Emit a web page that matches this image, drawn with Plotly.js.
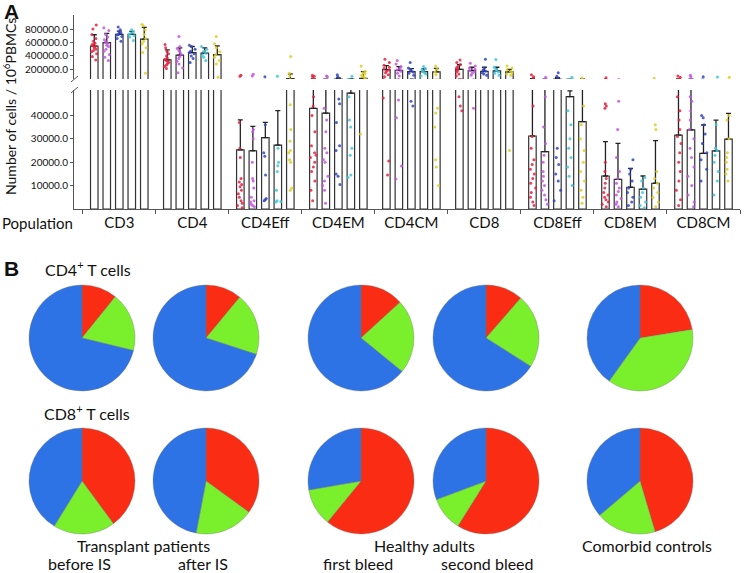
<!DOCTYPE html>
<html><head><meta charset="utf-8">
<script src="https://cdn.plot.ly/plotly-3.0.1.min.js"></script>
<style>html,body{margin:0;padding:0;background:#fff}#chart{width:745px;height:573px}</style>
</head><body><div id="chart"></div>
<script>
// ---------- Panel A data ----------
const populations = ['CD3','CD4','CD4Eff','CD4EM','CD4CM','CD8','CD8Eff','CD8EM','CD8CM'];
const groupNames = ['Transplant before IS','Transplant after IS','Healthy first bleed','Healthy second bleed','Comorbid controls'];

const meanRed    = [545000, 340000, 25300, 43000, 195000, 200000, 31200, 14100, 31600];
const meanViolet = [597000, 410000, 24900, 41000, 185000, 180000, 24500, 12700, 33800];
const meanBlue   = [720000, 450000, 30500, 53000, 165000, 170000, 55000,  9300, 23800];
const meanCyan   = [720000, 440000, 27300, 49500, 165000, 175000, 48000,  8500, 24800];
const meanYellow = [650000, 420000, 62000, 65000, 160000, 160000, 37300, 11000, 29900];

const sdRed    = [170000, 150000, 12800, 12000, 60000, 70000, 30000, 14700, 25000];
const sdViolet = [140000, 110000, 10400, 12000, 55000, 50000, 30000, 15300, 20000];
const sdBlue   = [ 50000,  90000,  6500, 20000, 45000, 60000, 20000,  8100, 12100];
const sdCyan   = [ 45000,  80000, 14700,  6000, 40000, 55000,  2500,  5600, 13200];
const sdYellow = [175000, 130000, 70000, 100000, 55000, 40000, 20000, 18200, 11000];

const ptsRed = [
  [340000,390000,430000,460000,480000,500000,520000,540000,555000,570000,590000,620000,660000,720000,800000,860000],
  [210000,240000,260000,280000,300000,310000,330000,350000,370000,400000,430000,470000,520000,570000],
  [500,1500,2500,3500,5000,6500,8000,9500,10500,11500,13000,22000,26000,37000,95000,110000],
  [3500,8000,12000,16000,18000,20000,22000,23000,24000,27000,33000,40000,44000,48000,85000,95000,110000],
  [14500,20500,47400,90000,120000,150000,170000,190000,210000,230000,260000,300000,350000],
  [42000,44000,48000,100000,130000,160000,180000,200000,220000,240000,270000,300000,340000],
  [1500,3000,5000,7000,9000,11000,13000,15000,17000,19000,21000,26000,31000,44000,70000,90000,120000],
  [1000,2000,3000,4000,5000,6000,7000,9000,11000,13000,16000,20000,43000,44000,45000,75000],
  [1500,4000,8000,12000,16000,20000,24000,28000,31000,34000,38000,42000,48000,80000,100000]
];
const ptsViolet = [
  [330000,380000,420000,470000,500000,540000,560000,590000,610000,640000,680000,720000,780000,820000],
  [150000,220000,280000,320000,360000,390000,420000,450000,480000,510000,540000,690000],
  [1000,1500,2000,3000,3500,5000,9000,12000,13000,20000,30000,33000,34000,100000,125000],
  [2500,8000,10000,12000,14000,20000,21000,24000,26000,33000,38000,43000,90000,100000],
  [12800,18400,39000,46600,100000,140000,170000,190000,210000,240000,280000,330000],
  [43000,110000,140000,160000,180000,200000,220000,250000,290000],
  [2000,4000,6000,8000,10000,12000,14000,16000,20000,23000,28000,35000,48000,80000],
  [1000,2000,3000,4500,6000,7500,9000,11000,13000,16000,22000,34000,46000],
  [1000,3000,6000,10000,14000,18000,22000,26000,30000,34000,38000,42000,46000,48000,90000,110000]
];
const ptsBlue = [
  [620000,660000,690000,710000,720000,740000,760000,790000,830000],
  [300000,360000,400000,430000,450000,470000,500000,540000,560000],
  [3500,4000,4500,14500,22500,24000,36000,90000],
  [10500,14000,15000,25000,27000,37000,45000,47000,90000,120000],
  [44000,46000,110000,140000,160000,180000,200000,220000,300000],
  [110000,130000,150000,170000,190000,220000,350000],
  [3500,8000,12000,15000,19000,22000,26000,75000,95000,150000],
  [1500,3000,5000,7000,9000,12000,15000,17000,21000],
  [12000,17000,21000,24000,28000,32000,36000,39000,40000,90000]
];
const ptsCyan = [
  [630000,680000,700000,720000,740000,760000,790000],
  [330000,380000,410000,440000,470000,500000,540000],
  [3000,3200,3500,8000,16000,18500,20000,26000,95000],
  [13500,14500,23000,26000,35000,38000,48000,95000],
  [100000,130000,150000,170000,190000,210000,240000],
  [110000,140000,160000,180000,200000,230000,345000],
  [10000,14000,18000,22000,26000,30000,36000,42000,80000],
  [500,1500,3000,5000,7000,9000,12000,13500],
  [6000,12000,16000,20000,23000,25000,26000,36000,85000]
];
const ptsYellow = [
  [140000,450000,520000,580000,620000,660000,720000,790000,850000,870000],
  [80000,280000,330000,380000,420000,460000,520000,580000,690000],
  [8000,9000,20000,21000,24000,25000,29000,34000,44500,100000,140000,390000],
  [32000,60000,80000,95000,110000,130000,150000,170000,250000],
  [10000,18000,21000,35000,41000,43000,120000,160000,200000,250000],
  [25000,110000,130000,150000,170000,190000,220000,250000],
  [2500,5000,8000,12000,16000,20000,25000,30000,36000,44000,70000],
  [1000,3000,5000,7000,9000,11000,13000,16000,34000,36000,65000],
  [12000,15000,17000,20000,22000,24000,30000,38000,40000,80000]
];
const groupColors = ['#e8203f','#c455e2','#3344c8','#3cc8dc','#dccf1e'];

// ---------- Panel B data ----------
const pieLabels = ['Eff','EM','CM'];
const pieGroups = ['before IS','after IS','first bleed','second bleed','Comorbid controls'];
const pieCD4 = [[10.8,18.0,71.2],[11.0,19.0,70.0],[13.2,22.7,64.1],[11.4,22.6,66.0],[22.4,37.5,40.1]];
const pieCD8 = [[39.9,18.9,41.2],[35.0,18.0,47.0],[60.9,11.4,27.7],[58.9,10.4,30.7],[45.4,18.4,36.2]];
const pieColors = ['#fa2d14','#79f02b','#2e73e6'];

// ---------- build ----------
const W = 745, H = 573;
const px = x => x / W, py = y => 1 - y / H;
const FONT = 'Lato, "Open Sans", sans-serif';

const groups = [
  {mean: meanRed, sd: sdRed, pts: ptsRed},
  {mean: meanViolet, sd: sdViolet, pts: ptsViolet},
  {mean: meanBlue, sd: sdBlue, pts: ptsBlue},
  {mean: meanCyan, sd: sdCyan, pts: ptsCyan},
  {mean: meanYellow, sd: sdYellow, pts: ptsYellow}
];
const traces = [];
[['x','y','lo'],['x2','y2','hi']].forEach(([xa, ya, ag]) => {
  groups.forEach((g, i) => {
    traces.push({
      type: 'bar', name: groupNames[i], x: populations, y: g.mean, xaxis: xa, yaxis: ya,
      alignmentgroup: 'bar' + ag, offsetgroup: 'g' + i,
      marker: {color: 'rgba(255,255,255,1)', line: {color: '#333', width: 1.2}},
      error_y: {type: 'data', symmetric: false, array: g.sd, arrayminus: g.sd.map(() => 0),
                color: '#222', thickness: 1.3, width: 2.5},
      showlegend: false, hoverinfo: 'skip'
    });
  });
  groups.forEach((g, i) => {
    const xs = [], ys = [];
    g.pts.forEach((arr, k) => arr.forEach(v => { xs.push(populations[k]); ys.push(v); }));
    traces.push({
      type: 'box', name: groupNames[i], x: xs, y: ys, xaxis: xa, yaxis: ya,
      alignmentgroup: 'box' + ag, offsetgroup: 'g' + i,
      boxpoints: 'all', jitter: 0.9, pointpos: 0,
      marker: {color: groupColors[i], size: 3, opacity: 0.85},
      line: {color: 'rgba(0,0,0,0)', width: 0}, fillcolor: 'rgba(0,0,0,0)',
      showlegend: false, hoverinfo: 'skip'
    });
  });
});

const pieCx = [82, 206, 361, 486, 640];
const rowCy = [338, 481];
const R = 53;
[pieCD4, pieCD8].forEach((rows, r) => {
  rows.forEach((vals, i) => {
    traces.push({
      type: 'pie', labels: pieLabels, values: vals, name: pieGroups[i],
      sort: false, direction: 'clockwise', rotation: 0,
      marker: {colors: pieColors, line: {color: 'rgba(110,110,110,0.6)', width: 0.6}},
      textinfo: 'none', hoverinfo: 'skip', showlegend: false,
      domain: {x: [px(pieCx[i] - R), px(pieCx[i] + R)], y: [py(rowCy[r] + R), py(rowCy[r] - R)]}
    });
  });
});

const ann = (text, x, y, size, opts) => Object.assign({
  text, x: px(x), y: py(y), xref: 'paper', yref: 'paper', showarrow: false,
  font: {family: FONT, size, color: '#111'}, xanchor: 'center', yanchor: 'middle'
}, opts || {});

const annotations = [
  ann('<b>A</b>', 2, 11, 21, {xanchor: 'left', font: {family: 'Arial, "Liberation Sans", sans-serif', size: 21, color: '#111'}}),
  ann('<b>B</b>', 2, 268, 21, {xanchor: 'left', font: {family: 'Arial, "Liberation Sans", sans-serif', size: 21, color: '#111'}}),
  ann('Number of cells / 10<sup>6</sup>PBMCs', 9, 107, 14, {textangle: -90}),
  ann('Population', 0, 223, 15, {xanchor: 'left'}),
  ann('CD4<sup>+</sup> T cells', 43, 268, 16, {xanchor: 'left'}),
  ann('CD8<sup>+</sup> T cells', 42, 412, 16, {xanchor: 'left'}),
  ann('Transplant patients', 143, 545, 16),
  ann('Healthy adults', 424, 545, 16),
  ann('Comorbid controls', 647, 545, 16),
  ann('before IS', 79, 563, 16),
  ann('after IS', 203, 563, 16),
  ann('first bleed', 358, 563, 16),
  ann('second bleed', 487, 563, 16)
];

const brk = (x0, y0, x1, y1) => ({type: 'line', xref: 'paper', yref: 'paper',
  x0: px(x0), y0: py(y0), x1: px(x1), y1: py(y1), line: {color: '#555', width: 1}});

const axisCommon = {showline: true, linecolor: '#555', linewidth: 1, ticks: 'outside', ticklen: 3,
  tickcolor: '#555', showgrid: false, zeroline: false, fixedrange: true, tickformat: '.1f',
  tickfont: {family: FONT, size: 10, color: '#111'}};

const xCommon = {domain: [px(74), px(740)], type: 'category', categoryorder: 'array',
  categoryarray: populations, range: [-0.62, 8.5], showgrid: false, zeroline: false, fixedrange: true};

const layout = {
  width: W, height: H, margin: {l: 0, r: 0, t: 0, b: 0},
  paper_bgcolor: '#fff', plot_bgcolor: 'rgba(0,0,0,0)',
  font: {family: FONT, color: '#111'}, showlegend: false,
  barmode: 'group', bargap: 0.144, bargroupgap: 0.4,
  boxmode: 'group', boxgap: 0.144, boxgroupgap: 0.4,
  xaxis: Object.assign({}, xCommon, {anchor: 'y', showline: true, linecolor: '#555',
    ticks: 'outside', tickson: 'boundaries', ticklen: 4, tickcolor: '#555',
    tickfont: {family: FONT, size: 15, color: '#111'}}),
  xaxis2: Object.assign({}, xCommon, {anchor: 'y2', visible: false}),
  yaxis: Object.assign({}, axisCommon, {domain: [py(209), py(90)], anchor: 'x', range: [0, 50850],
    tickvals: [10000, 20000, 30000, 40000]}),
  yaxis2: Object.assign({}, axisCommon, {domain: [py(79), py(15)], anchor: 'x2', range: [55000, 1010000],
    tickvals: [200000, 400000, 600000, 800000]}),
  annotations,
  shapes: [brk(71, 82, 78, 76), brk(71, 93, 78, 87)]
};

Plotly.newPlot('chart', traces, layout, {staticPlot: true, displayModeBar: false});
</script>
</body></html>
